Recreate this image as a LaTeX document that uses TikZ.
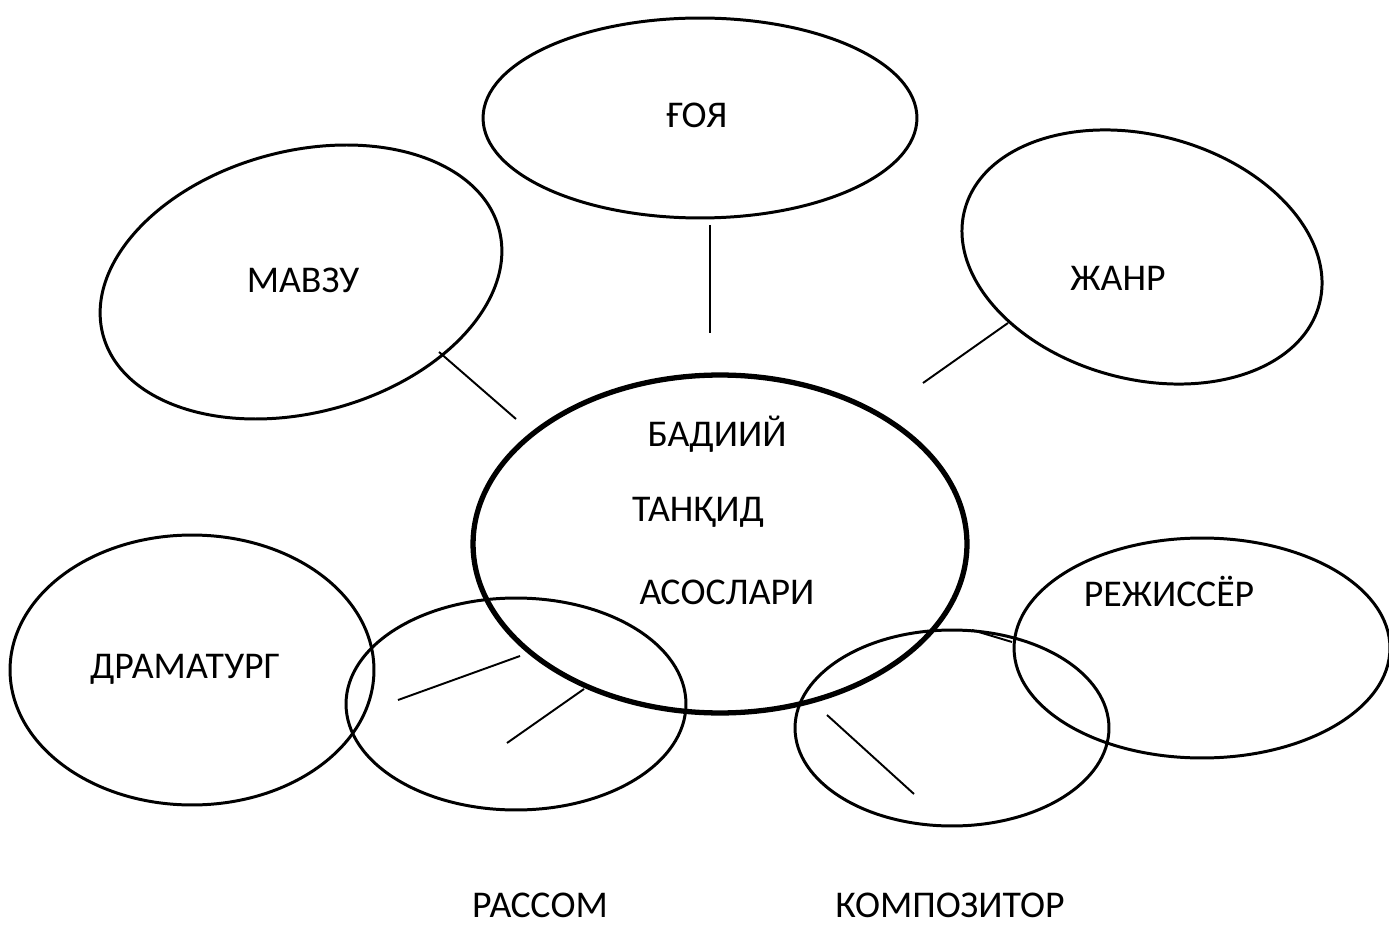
\documentclass[tikz,border=0pt]{standalone}
\usepackage{fontspec}
\setmainfont{Carlito}
\usetikzlibrary{shapes.geometric}

\tikzset{
  oval/.style={ellipse, draw, line width=1.7pt},
  bigoval/.style={ellipse, draw, line width=3pt},
  word/.style={font=\fontsize{21.5}{26}\selectfont, inner sep=0pt},
  spoke/.style={line width=1.1pt}
}

\begin{document}
\begin{tikzpicture}[x=0.02cm, y=-0.02cm]
  \useasboundingbox (0,0) rectangle (1389,949);

  % Draw the ovals
  \node[bigoval, minimum width=9.88cm, minimum height=6.76cm] (markaz) at (720,544) {};
  \node[oval, minimum width=8.68cm, minimum height=4.0cm] (goya) at (700,118) {};
  \node[oval, minimum width=8.2cm, minimum height=5.23cm, rotate=15] (mavzu) at (301,282) {};
  \node[oval, minimum width=7.34cm, minimum height=4.88cm, rotate=-15] (janr) at (1142,257) {};
  \node[oval, minimum width=7.28cm, minimum height=5.4cm] (drama) at (192,670) {};
  \node[oval, minimum width=6.8cm, minimum height=4.24cm] (rassom) at (516,704) {};
  \node[oval, minimum width=6.28cm, minimum height=3.92cm] (kompoz) at (952,728) {};
  \node[oval, minimum width=7.52cm, minimum height=4.4cm] (rejis) at (1202,648) {};

  % Add labels
  \node[word] (tgoya) at (697,115) {ҒОЯ};
  \node[word] (tmavzu) at (303,280) {МАВЗУ};
  \node[word] (tjanr) at (1118,278) {ЖАНР};
  \node[word] (tbadiiy) at (717,434) {БАДИИЙ};
  \node[word] (ttanqid) at (698,512) {ТАНҚИД};
  \node[word] (tasos) at (727,592) {АСОСЛАРИ};
  \node[word] (tdrama) at (185,669) {ДРАМАТУРГ};
  \node[word] (trejis) at (1169,591) {РЕЖИССЁР};
  \node[word] (trassom) at (540,905) {РАССОМ};
  \node[word] (tkompoz) at (950,905) {КОМПОЗИТОР};

  % Line ends
  \coordinate (m1) at (439,352);  \coordinate (m2) at (516,419);
  \coordinate (g1) at (710,225);  \coordinate (g2) at (710,333);
  \coordinate (j1) at (1008,323); \coordinate (j2) at (923,383);
  \coordinate (d1) at (398,700);  \coordinate (d2) at (520,656);
  \coordinate (r1) at (507,743);  \coordinate (r2) at (584,689);
  \coordinate (k1) at (827,715);  \coordinate (k2) at (914,794);
  \coordinate (e1) at (972,630);  \coordinate (e2) at (1012,642);

  % Draw the spokes
  \draw[spoke] (m1) -- (m2);
  \draw[spoke] (g1) -- (g2);
  \draw[spoke] (j1) -- (j2);
  \draw[spoke] (d1) -- (d2);
  \draw[spoke] (r1) -- (r2);
  \draw[spoke] (k1) -- (k2);
  \draw[spoke] (e1) -- (e2);
\end{tikzpicture}
\end{document}
